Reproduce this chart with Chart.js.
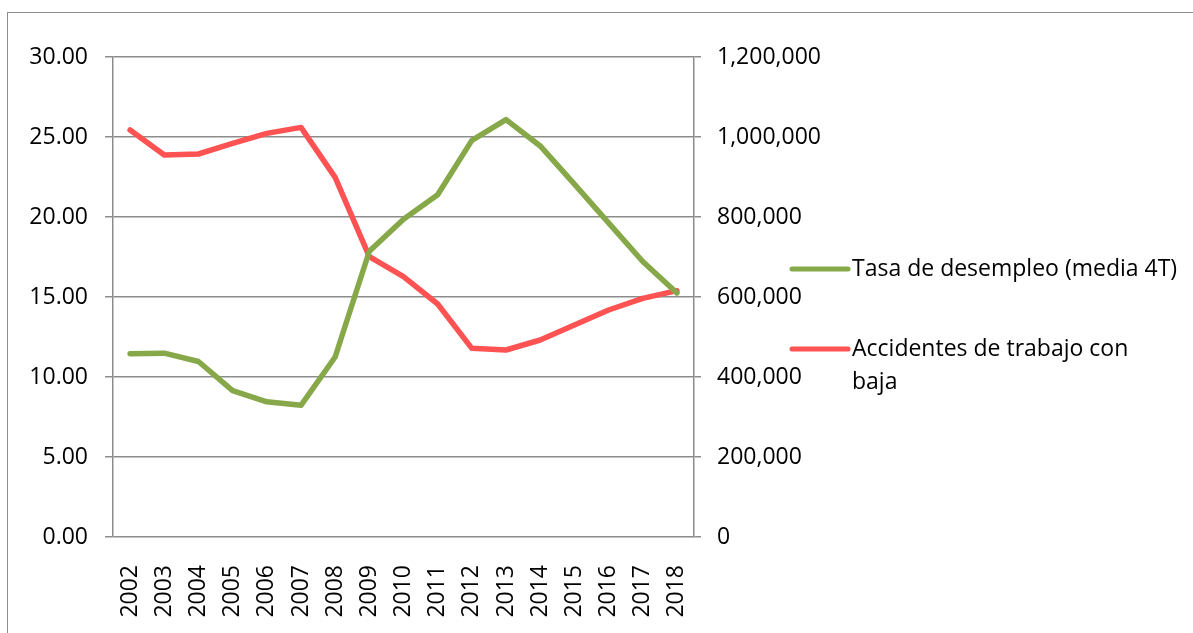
<!DOCTYPE html>
<html>
<head>
<meta charset="utf-8">
<script src="https://cdn.jsdelivr.net/npm/chart.js@4.4.1/dist/chart.umd.min.js"></script>
<style>
  html, body { margin: 0; padding: 0; background: #fff; overflow: hidden; }
  #wrap { position: relative; width: 1193px; height: 633px; }
  #frame {
    position: absolute; left: 7px; top: 12px; right: -10px; bottom: -10px;
    border-left: 1.5px solid #8c8c8c; border-top: 1.5px solid #8c8c8c;
  }
  canvas { position: absolute; left: 0; top: 0; }
</style>
</head>
<body>
<div id="wrap">
  <div id="frame"></div>
  <canvas id="chart" width="1193" height="633"></canvas>
</div>
<script>
const years = ["2002", "2003", "2004", "2005", "2006", "2007", "2008", "2009", "2010",
  "2011", "2012", "2013", "2014", "2015", "2016", "2017", "2018"];
const tasaDesempleo = [11.45, 11.49, 10.97, 9.15, 8.45, 8.23, 11.25, 17.86, 19.86,
  21.39, 24.79, 26.09, 24.44, 22.06, 19.63, 17.22, 15.25];
const accidentesBaja = [1017500, 955000, 957500, 984000, 1009000, 1024000, 899000, 701000, 651000,
  582500, 471700, 467500, 492500, 530000, 567500, 596700, 615800];
const seriesNames = ["Tasa de desempleo (media 4T)", "Accidentes de trabajo con baja"];

const fontFamily = "'Open Sans', 'Liberation Sans', sans-serif";
const fontSize = 23;
const gridColor = "#8c8c8c";

// legend on the right; column is as wide as the first label, longer ones wrap
const sideLegend = {
  id: "sideLegend",
  afterDraw(chart) {
    const ctx = chart.ctx;
    const x0 = 792, lineLen = 56, textX = 852;
    const rows = [269, 349];
    ctx.save();
    ctx.font = fontSize + "px " + fontFamily;
    ctx.textBaseline = "middle";
    ctx.fillStyle = "#000";
    const maxW = ctx.measureText(chart.data.datasets[0].label).width + 2;
    chart.data.datasets.forEach((ds, i) => {
      const y = rows[i];
      ctx.strokeStyle = ds.borderColor;
      ctx.lineWidth = 5;
      ctx.lineCap = "round";
      ctx.beginPath();
      ctx.moveTo(x0, y);
      ctx.lineTo(x0 + lineLen, y);
      ctx.stroke();
      const words = ds.label.split(" ");
      let line = "", lines = [];
      words.forEach((w) => {
        const test = line ? line + " " + w : w;
        if (ctx.measureText(test).width > maxW && line) {
          lines.push(line);
          line = w;
        } else {
          line = test;
        }
      });
      lines.push(line);
      lines.forEach((l, k) => ctx.fillText(l, textX, y + k * 33));
    });
    ctx.restore();
  },
};

const ctx = document.getElementById("chart").getContext("2d");
new Chart(ctx, {
  type: "line",
  data: {
    labels: years,
    datasets: [
      {
        label: seriesNames[0],
        data: tasaDesempleo,
        borderColor: "#86a848",
        borderWidth: 5.5,
        pointRadius: 0,
        tension: 0,
        borderJoinStyle: "round",
        borderCapStyle: "round",
        yAxisID: "y",
      },
      {
        label: seriesNames[1],
        data: accidentesBaja,
        borderColor: "#ff5252",
        borderWidth: 5.5,
        pointRadius: 0,
        tension: 0,
        borderJoinStyle: "round",
        borderCapStyle: "round",
        yAxisID: "y1",
      },
    ],
  },
  options: {
    responsive: false,
    animation: false,
    layout: { padding: { left: 0, right: 0, top: 57, bottom: 0 } },
    plugins: {
      legend: { display: false },
      tooltip: { enabled: false },
    },
    scales: {
      x: {
        offset: true,
        grid: { display: false },
        border: { display: false },
        ticks: {
          autoSkip: false,
          maxRotation: 90,
          minRotation: 90,
          padding: 20,
          color: "#000",
          font: { family: fontFamily, size: fontSize },
        },
        afterFit(scale) {
          scale.height = 96;
        },
      },
      y: {
        position: "left",
        min: 0,
        max: 30,
        grid: { color: gridColor, lineWidth: 1.5, tickLength: 8 },
        border: { color: gridColor, width: 1.5 },
        ticks: {
          stepSize: 5,
          padding: 17,
          color: "#000",
          font: { family: fontFamily, size: fontSize },
          callback: (v) => v.toFixed(2),
        },
        afterFit(scale) {
          scale.width = 113;
        },
      },
      y1: {
        position: "right",
        min: 0,
        max: 1200000,
        grid: { drawOnChartArea: false, color: gridColor, lineWidth: 1.5, tickLength: 7 },
        border: { color: gridColor, width: 1.5 },
        ticks: {
          stepSize: 200000,
          padding: 16,
          color: "#000",
          font: { family: fontFamily, size: fontSize },
          callback: (v) => v.toLocaleString("en-US"),
        },
        afterFit(scale) {
          scale.width = 499;
        },
      },
    },
  },
  plugins: [sideLegend],
});
</script>
</body>
</html>
